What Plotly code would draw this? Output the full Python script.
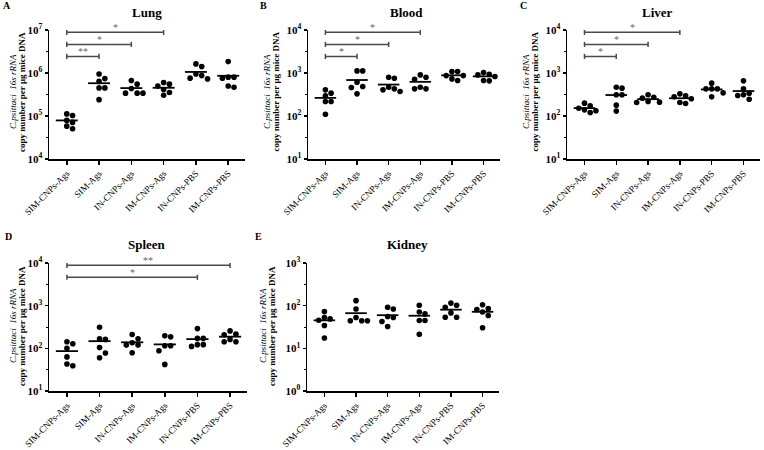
import numpy as np
import plotly.graph_objects as go

W, H = 764, 450

groups = ["SIM-CNPs-Ags", "SIM-Ags", "IN-CNPs-Ags", "IM-CNPs-Ags", "IN-CNPs-PBS", "IM-CNPs-PBS"]

# copy number per ug mice DNA, six mice per group
lung = [
    [1.12e5, 1.03e5, 7.9e4, 7.1e4, 5.8e4, 5.05e4],
    [9.5e5, 7.4e5, 6.4e5, 4.5e5, 4.5e5, 2.4e5],
    [6.7e5, 5.5e5, 4.35e5, 3.4e5, 3.4e5, 3.4e5],
    [6.0e5, 5.5e5, 5.0e5, 4.13e5, 3.52e5, 3.05e5],
    [1.63e6, 1.41e6, 9.5e5, 8.7e5, 7.6e5, 7.3e5],
    [1.84e6, 8.0e5, 7.6e5, 8.0e5, 5.0e5, 4.68e5],
]
blood = [
    [406, 340, 294, 217, 217, 110],
    [1119, 1119, 611, 484, 459, 327],
    [798, 757, 468, 428, 406, 371],
    [904, 798, 716, 468, 428, 428],
    [1079, 1079, 871, 871, 729, 667],
    [1023, 935, 904, 827, 667, 656],
]
liver = [
    [199, 173, 152, 139, 132, 121],
    [468, 444, 311, 311, 179, 130],
    [311, 274, 260, 217, 210, 206],
    [327, 294, 279, 251, 206, 196],
    [580, 428, 428, 428, 345, 279],
    [656, 428, 340, 311, 299, 246],
]
spleen = [
    [143, 128, 100, 63, 43, 39],
    [312, 167, 162, 104, 78, 60],
    [211, 168, 135, 119, 119, 79],
    [196, 186, 115, 115, 88, 42],
    [290, 171, 171, 122, 122, 111],
    [256, 215, 207, 162, 143, 143],
]
kidney = [
    [72.6, 52.7, 49, 45.7, 34.4, 17.5],
    [131, 83.7, 52.7, 44.2, 44.2, 44.2],
    [91.5, 83.7, 55.6, 52.7, 42.6, 32.6],
    [102, 71.3, 64.1, 44.9, 44.9, 21.3],
    [115, 102, 91.5, 67.6, 53.7, 53.7],
    [105, 85.1, 80.8, 71.3, 58.6, 30.3],
]

organs = ["Lung", "Blood", "Liver", "Spleen", "Kidney"]
letters = ["A", "B", "C", "D", "E"]
decades = [(4, 7), (1, 4), (1, 4), (1, 4), (0, 3)]

lung_sig = [(0, 3, "*"), (0, 2, "*"), (0, 1, "**")]
blood_sig = [(0, 3, "*"), (0, 2, "*"), (0, 1, "*")]
liver_sig = [(0, 3, "*"), (0, 2, "*"), (0, 1, "*")]
spleen_sig = [(0, 5, "**"), (0, 4, "*")]
kidney_sig = []

datasets = [lung, blood, liver, spleen, kidney]
sigs = [lung_sig, blood_sig, liver_sig, spleen_sig, kidney_sig]

# ---- layout geometry (pixels) ----
boxes = [  # left, right, top, bottom
    (49, 245, 30, 159),
    (308, 500, 30, 159),
    (567, 760, 30, 159),
    (49, 247, 263, 391),
    (307, 499, 263, 391),
]
title_pos = [(147, 13), (406, 13), (657, 13), (147, 245), (407, 245)]
letter_pos = [(7, 6), (263, 6), (523, 6), (8, 237), (258, 236)]
ytitle_pos = [(13, 22, 92), (267, 275.5, 92), (526, 534.5, 92), (13, 22, 326), (263, 272, 326)]
XR = (-0.55, 5.52)

SERIF = "Liberation Serif"


def px(x):
    return x / W


def py(y):
    return 1 - y / H


def swarm(vals, ppc, ppd, diam=5.6, step=0.18):
    vals = np.asarray(vals, float)
    order = np.argsort(-vals)
    placed = []
    offs = np.zeros(len(vals))
    for idx in order:
        ly = np.log10(vals[idx])
        ox = 0.0
        for k in [0, 1, -1, 2, -2, 3, -3]:
            ox = k * step
            if all(((ox - a) * ppc) ** 2 + ((ly - b) * ppd) ** 2 >= diam ** 2 for a, b in placed):
                break
        placed.append((ox, ly))
        offs[idx] = ox
    return offs


fig = go.Figure()
annotations = []
layout_axes = {}

for p in range(5):
    n = "" if p == 0 else str(p + 1)
    xa, ya = "x" + n, "y" + n
    l, r, t, b = boxes[p]
    lo, hi = decades[p]
    ppc = (r - l) / (XR[1] - XR[0])
    ppd = (b - t) / (hi - lo)
    data = datasets[p]

    for gi, vals in enumerate(data):
        offs = swarm(vals, ppc, ppd)
        fig.add_trace(go.Scatter(
            x=gi + offs, y=vals, mode="markers", xaxis=xa, yaxis=ya,
            marker=dict(color="black", size=5.6, line=dict(width=0)),
            showlegend=False, hoverinfo="skip"))
        m = float(np.mean(vals))
        fig.add_trace(go.Scatter(
            x=[gi - 0.34, gi + 0.34], y=[m, m], mode="lines", xaxis=xa, yaxis=ya,
            line=dict(color="black", width=1.8), showlegend=False, hoverinfo="skip"))

    # significance brackets
    for k, (i, j, lab) in enumerate(sigs[p]):
        lvl = hi - (0.055 + 0.28 * k)
        cap = 0.06
        yv = 10 ** lvl
        ylo, yhi = 10 ** (lvl - cap), 10 ** (lvl + cap)
        fig.add_trace(go.Scatter(
            x=[i, i, None, i, j, None, j, j],
            y=[ylo, yhi, None, yv, yv, None, ylo, yhi],
            mode="lines", xaxis=xa, yaxis=ya,
            line=dict(color="#4a4a4a", width=1.5), showlegend=False, hoverinfo="skip"))
        annotations.append(dict(
            x=(i + j) / 2, y=lvl, xref=xa, yref=ya, text=lab, showarrow=False,
            yanchor="bottom", yshift=-3,
            font=dict(family=SERIF, size=10, color="#666666")))

    layout_axes["xaxis" + n] = dict(
        domain=[px(l), px(r)], anchor=ya, range=list(XR), automargin=False,
        tickmode="array", tickvals=list(range(len(groups))), ticktext=groups,
        tickangle=-45, ticks="outside", ticklen=4, tickwidth=1.5, tickcolor="black",
        showline=True, linecolor="black", linewidth=1.5, showgrid=False, zeroline=False,
        tickfont=dict(family=SERIF, size=9.2, color="black"), fixedrange=True)
    layout_axes["yaxis" + n] = dict(
        domain=[py(b), py(t)], anchor=xa, type="log", range=[lo, hi], automargin=False,
        tickmode="array", tickvals=[10 ** e for e in range(lo, hi + 1)],
        ticktext=["10<sup>%d</sup>" % e for e in range(lo, hi + 1)],
        ticks="outside", ticklen=3, tickwidth=1.5, tickcolor="black",
        minor=dict(tickvals=[10 ** (e + 0.5) for e in range(lo, hi)], ticks="outside",
                   ticklen=2, tickwidth=1, tickcolor="black"),
        showline=True, linecolor="black", linewidth=1.5, showgrid=False, zeroline=False,
        tickfont=dict(family=SERIF, size=11, color="black", weight="bold"), fixedrange=True)

    # titles and letters
    tx, ty = title_pos[p]
    annotations.append(dict(x=px(tx), y=py(ty), xref="paper", yref="paper", text="<b>%s</b>" % organs[p],
                            showarrow=False, xanchor="center", yanchor="middle",
                            font=dict(family=SERIF, size=13, color="black")))
    lx, ly = letter_pos[p]
    annotations.append(dict(x=px(lx), y=py(ly), xref="paper", yref="paper", text="<b>%s</b>" % letters[p],
                            showarrow=False, xanchor="center", yanchor="middle",
                            font=dict(family=SERIF, size=10, color="black")))
    x1, x2, yc = ytitle_pos[p]
    annotations.append(dict(x=px(x1), y=py(yc), xref="paper", yref="paper",
                            text="<i>C.psittaci</i>  <i>16s rRNA</i>", textangle=-90,
                            showarrow=False, xanchor="center", yanchor="middle",
                            font=dict(family=SERIF, size=9, color="black")))
    annotations.append(dict(x=px(x2), y=py(yc), xref="paper", yref="paper",
                            text="<b>copy number per μg mice DNA</b>", textangle=-90,
                            showarrow=False, xanchor="center", yanchor="middle",
                            font=dict(family=SERIF, size=9, color="black")))

fig.update_layout(
    width=W, height=H, margin=dict(l=0, r=0, t=0, b=0, autoexpand=False),
    paper_bgcolor="white", plot_bgcolor="white", showlegend=False,
    hovermode=False, annotations=annotations, **layout_axes)

fig.write_html("out.html", config={"displayModeBar": False, "staticPlot": True},
               post_script="document.body.style.margin='0px';document.body.style.padding='0px';")
